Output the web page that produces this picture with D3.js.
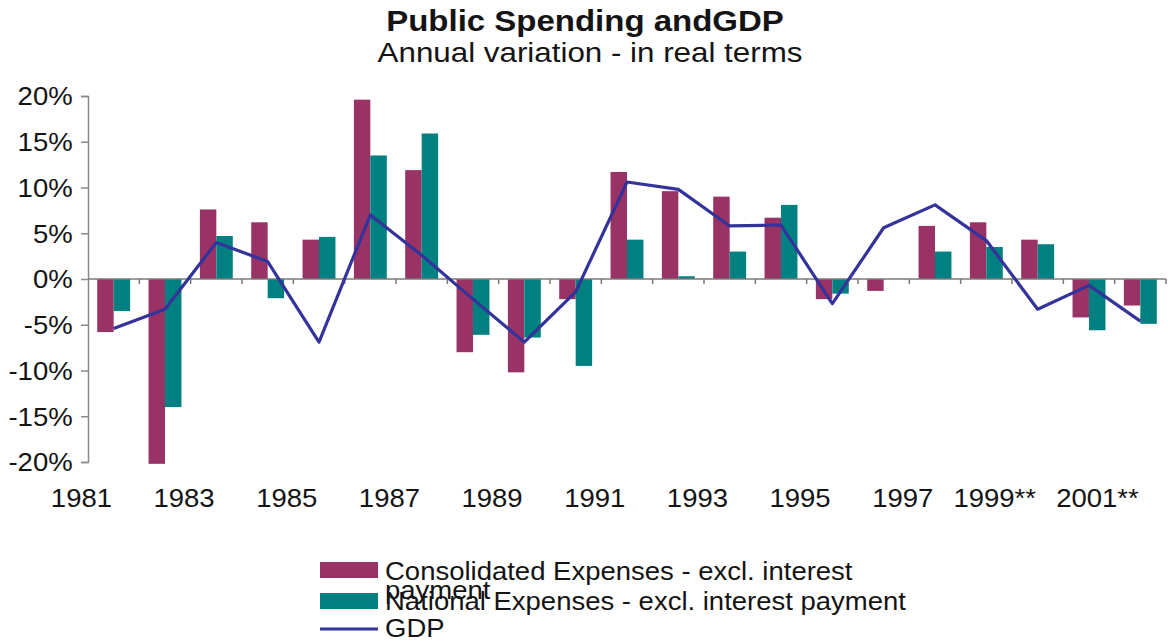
<!DOCTYPE html>
<html>
<head>
<meta charset="utf-8">
<script src="https://cdn.jsdelivr.net/npm/d3@7"></script>
<style>
  body { margin: 0; background: #fff; }
  svg { display: block; }
  text { font-family: "Liberation Sans", Arial, sans-serif; fill: #141414; }
</style>
</head>
<body>
<svg id="chart" width="1168" height="643"></svg>
<script>
// Annual variation in real terms (%)
const years = [1981, 1982, 1983, 1984, 1985, 1986, 1987, 1988, 1989, 1990,
               1991, 1992, 1993, 1994, 1995, 1996, 1997, 1998, 1999, 2000, 2001];
const consolidated = [-5.8, -20.2, 7.6, 6.2, 4.3, 19.6, 11.9, -8.0, -10.2, -2.2,
                      11.7, 9.6, 9.0, 6.7, -2.2, -1.3, 5.8, 6.2, 4.3, -4.2, -2.9];
const national = [-3.5, -14.0, 4.7, -2.1, 4.6, 13.5, 15.9, -6.1, -6.4, -9.5,
                  4.3, 0.3, 3.0, 8.1, -1.6, 0.0, 3.0, 3.5, 3.8, -5.6, -4.9];
const gdp = [-5.4, -3.3, 4.0, 1.9, -6.9, 7.0, 2.6, -2.2, -6.9, -1.4,
             10.6, 9.8, 5.8, 5.9, -2.7, 5.6, 8.1, 4.2, -3.3, -0.7, -4.6];

const labelYears = [1981, 1983, 1985, 1987, 1989, 1991, 1993, 1995, 1997, 1999, 2001];
const labelTexts = ["1981", "1983", "1985", "1987", "1989", "1991", "1993", "1995", "1997", "1999**", "2001**"];
const yTicks = [20, 15, 10, 5, 0, -5, -10, -15, -20];

const colors = { consolidated: "#993366", national: "#008080", gdp: "#333399" };

const title = "Public Spending andGDP";
const subtitle = "Annual variation - in real terms";

// Layout
const plot = { left: 88, right: 1166, top: 96, bottom: 462 };
const SX = 1.1; // horizontal text stretch

const svg = d3.select("#chart");

const x0 = d3.scaleBand().domain(years).range([plot.left, plot.right]).padding(0);
const x1 = d3.scaleBand().domain(["consolidated", "national"])
  .range([0, x0.bandwidth()]).paddingInner(0).paddingOuter(0.56);
const y = d3.scaleLinear().domain([-20, 20]).range([plot.bottom, plot.top]);

function stretchedText(sel, x, yy, txt) {
  return sel.append("text")
    .attr("transform", `translate(${x},${yy}) scale(${SX},1)`)
    .text(txt);
}

// Titles
stretchedText(svg, 585, 31, title)
  .attr("text-anchor", "middle").attr("font-size", 30).attr("font-weight", "bold");
stretchedText(svg, 590, 62, subtitle)
  .attr("text-anchor", "middle").attr("font-size", 28.5);

// Y axis
const yAxis = svg.append("g")
  .attr("transform", `translate(${plot.left},0)`)
  .call(d3.axisLeft(y).tickValues(yTicks).tickSize(7).tickPadding(7)
    .tickFormat(d => d + "%"));
yAxis.select(".domain").attr("stroke", "#8a8a8a").attr("stroke-width", 1.5);
yAxis.selectAll(".tick line").attr("stroke", "#8a8a8a").attr("stroke-width", 1.5);
yAxis.selectAll(".tick text")
  .attr("font-size", 25).attr("font-family", "Liberation Sans, Arial, sans-serif")
  .attr("fill", "#141414").attr("dy", "0.35em")
  .attr("transform", `scale(${SX},1)`);

// Bars
const rows = years.map((yr, i) => ({ year: yr, consolidated: consolidated[i], national: national[i], gdp: gdp[i] }));
const groups = svg.append("g").selectAll("g").data(rows).join("g")
  .attr("transform", d => `translate(${x0(d.year)},0)`);
groups.selectAll("rect")
  .data(d => ["consolidated", "national"].map(k => ({ key: k, value: d[k] })))
  .join("rect")
  .attr("x", d => x1(d.key))
  .attr("width", x1.bandwidth())
  .attr("y", d => y(Math.max(0, d.value)))
  .attr("height", d => Math.abs(y(d.value) - y(0)))
  .attr("fill", d => colors[d.key]);

// Zero line with category boundary ticks
svg.append("line")
  .attr("x1", plot.left).attr("x2", plot.right)
  .attr("y1", y(0)).attr("y2", y(0))
  .attr("stroke", "#7a7a7a").attr("stroke-width", 1.5);
svg.append("g").selectAll("line").data(years.slice(1).concat([null])).join("line")
  .attr("x1", d => d === null ? plot.right : x0(d))
  .attr("x2", d => d === null ? plot.right : x0(d))
  .attr("y1", y(0)).attr("y2", y(0) + 5)
  .attr("stroke", "#7a7a7a").attr("stroke-width", 1.5);

// Category labels, right edge just past the category boundary
const labelG = svg.append("g");
labelYears.forEach((yr, i) => {
  stretchedText(labelG, x0(yr) + 24, 507, labelTexts[i])
    .attr("text-anchor", "end").attr("font-size", 25);
});

// GDP line
const line = d3.line()
  .x(d => x0(d.year) + x0.bandwidth() / 2)
  .y(d => y(d.gdp));
svg.append("path").datum(rows)
  .attr("d", line)
  .attr("fill", "none")
  .attr("stroke", colors.gdp)
  .attr("stroke-width", 3.2)
  .attr("stroke-linejoin", "round");

// Legend (first entry wraps onto a second line)
const lg = svg.append("g");
lg.append("rect").attr("x", 320).attr("y", 562).attr("width", 58).attr("height", 16).attr("fill", colors.consolidated);
lg.append("rect").attr("x", 320).attr("y", 593).attr("width", 58).attr("height", 16).attr("fill", colors.national);
lg.append("line").attr("x1", 320).attr("x2", 378).attr("y1", 629).attr("y2", 629)
  .attr("stroke", colors.gdp).attr("stroke-width", 3);
stretchedText(lg, 385, 580, "Consolidated Expenses - excl. interest").attr("font-size", 25);
stretchedText(lg, 385, 599, "payment").attr("font-size", 25);
stretchedText(lg, 385, 610, "National Expenses - excl. interest payment").attr("font-size", 25);
stretchedText(lg, 385, 637, "GDP").attr("font-size", 25);
</script>
</body>
</html>
